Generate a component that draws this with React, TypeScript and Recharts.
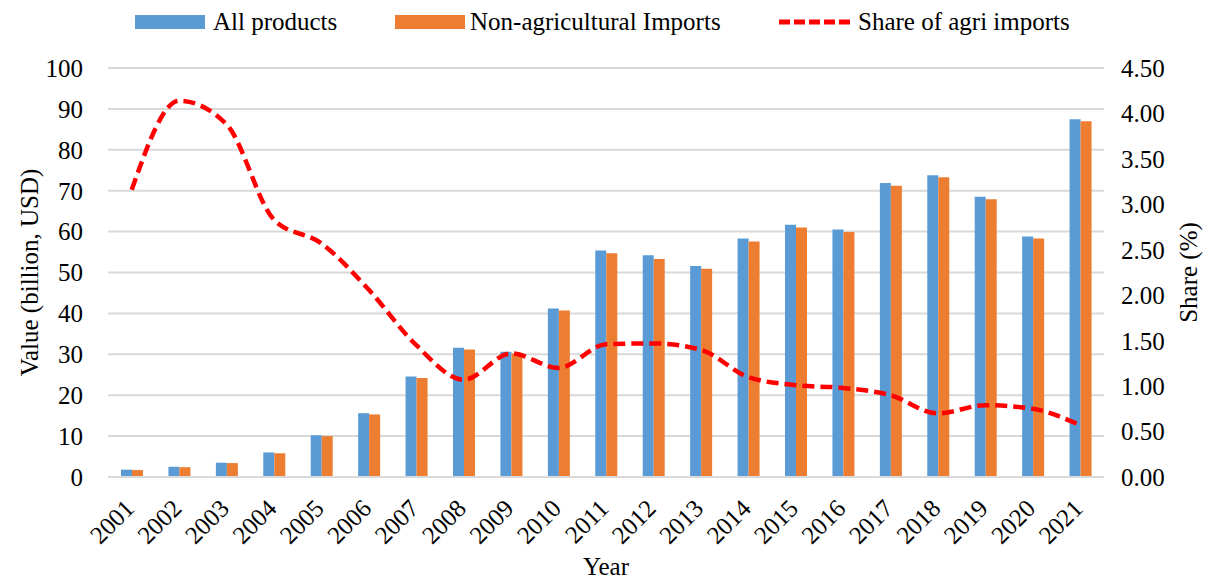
import React from 'react';
import {
  ComposedChart,
  Bar,
  Line,
  XAxis,
  YAxis,
  CartesianGrid,
  Legend,
} from 'recharts';

const years = [
  '2001', '2002', '2003', '2004', '2005', '2006', '2007', '2008', '2009', '2010', '2011',
  '2012', '2013', '2014', '2015', '2016', '2017', '2018', '2019', '2020', '2021',
];

// billion USD
const allProducts = [
  1.8, 2.5, 3.5, 6.0, 10.2, 15.6, 24.6, 31.6, 30.6, 41.2, 55.4,
  54.2, 51.6, 58.3, 61.7, 60.5, 71.9, 73.8, 68.5, 58.8, 87.5,
];
const nonAgriImports = [
  1.7, 2.4, 3.4, 5.8, 10.0, 15.3, 24.2, 31.2, 30.2, 40.7, 54.7,
  53.3, 50.9, 57.6, 61.0, 59.9, 71.2, 73.3, 67.9, 58.3, 87.0,
];

// percent
const agriShare = [
  3.16, 4.14, 3.88, 2.83, 2.57, 2.06, 1.45, 1.07, 1.36, 1.2, 1.46,
  1.47, 1.4, 1.1, 1.01, 0.98, 0.9, 0.7, 0.79, 0.75, 0.57,
];

const leftTicks = [0, 10, 20, 30, 40, 50, 60, 70, 80, 90, 100];
const rightTicks = [0, 0.5, 1, 1.5, 2, 2.5, 3, 3.5, 4, 4.5];

const BLUE = '#5b9bd5';
const ORANGE = '#ed7d31';
const RED = '#ff0000';
const GRID = '#d9d9d9';
const FONT = '"Liberation Serif", "Times New Roman", serif';
const FS = 25;

const data = years.map((year, i) => ({
  year,
  all: allProducts[i],
  nonAgri: nonAgriImports[i],
  share: agriShare[i],
}));

function YearTick(props: any) {
  const { x, y, payload } = props;
  const ax = x + 4;
  const ay = y + 25;
  return (
    <text
      x={ax}
      y={ay}
      transform={`rotate(-45, ${ax}, ${ay})`}
      textAnchor="end"
      fontSize={FS}
      fontFamily={FONT}
      fill="#000"
    >
      {payload.value}
    </text>
  );
}

function TopLegend() {
  const text: React.CSSProperties = {
    position: 'absolute',
    top: 8,
    fontSize: FS,
    fontFamily: FONT,
    color: '#000',
    lineHeight: '28px',
    whiteSpace: 'nowrap',
  };
  return (
    <div style={{ position: 'relative', width: 1207, height: 40 }}>
      <div style={{ position: 'absolute', left: 135, top: 15, width: 70, height: 14, background: BLUE }} />
      <span style={{ ...text, left: 213 }}>All products</span>
      <div style={{ position: 'absolute', left: 395, top: 15, width: 70, height: 14, background: ORANGE }} />
      <span style={{ ...text, left: 470 }}>Non-agricultural Imports</span>
      <svg style={{ position: 'absolute', left: 778, top: 16 }} width={76} height={12}>
        <line x1={1} y1={6} x2={75} y2={6} stroke={RED} strokeWidth={5} strokeDasharray="11 4" />
      </svg>
      <span style={{ ...text, left: 858 }}>Share of agri imports</span>
    </div>
  );
}

export default function App() {
  return (
    <div style={{ position: 'absolute', left: 0, top: 0, width: 1207, height: 579, background: '#fff' }}>
      <ComposedChart
        width={1207}
        height={579}
        data={data}
        margin={{ top: 28, right: 0, bottom: 0, left: 0 }}
        barGap={0}
      >
        <CartesianGrid vertical={false} stroke={GRID} strokeWidth={2} yAxisId="left" />
        <Legend
          verticalAlign="top"
          align="left"
          wrapperStyle={{ top: 0, left: 0 }}
          content={() => <TopLegend />}
        />
        <XAxis
          dataKey="year"
          height={102}
          interval={0}
          tickLine={false}
          axisLine={{ stroke: GRID, strokeWidth: 2 }}
          tick={<YearTick />}
          label={{ value: 'Year', position: 'insideBottom', offset: 4, fontSize: FS, fontFamily: FONT, fill: '#000' }}
        />
        <YAxis
          yAxisId="left"
          width={108}
          domain={[0, 100]}
          ticks={leftTicks}
          axisLine={false}
          tickLine={false}
          tickSize={0}
          tickMargin={25}
          tick={{ fontSize: FS, fontFamily: FONT, fill: '#000' }}
          label={{ value: 'Value (billion, USD)', angle: -90, position: 'center', dx: -25, fontSize: FS, fontFamily: FONT, fill: '#000' }}
        />
        <YAxis
          yAxisId="right"
          orientation="right"
          width={103}
          domain={[0, 4.5]}
          ticks={rightTicks}
          axisLine={false}
          tickLine={false}
          tickSize={0}
          tickMargin={17}
          tickFormatter={(v: number) => v.toFixed(2)}
          tick={{ fontSize: FS, fontFamily: FONT, fill: '#000' }}
          label={{ value: 'Share (%)', angle: -90, position: 'center', dx: 33, fontSize: FS, fontFamily: FONT, fill: '#000' }}
        />
        <Bar yAxisId="left" dataKey="all" name="All products" fill={BLUE} barSize={11} isAnimationActive={false} />
        <Bar yAxisId="left" dataKey="nonAgri" name="Non-agricultural Imports" fill={ORANGE} barSize={11} isAnimationActive={false} />
        <Line
          yAxisId="right"
          type="monotone"
          dataKey="share"
          name="Share of agri imports"
          stroke={RED}
          strokeWidth={4.5}
          strokeDasharray="12 6"
          dot={false}
          activeDot={false}
          isAnimationActive={false}
        />
      </ComposedChart>
    </div>
  );
}
